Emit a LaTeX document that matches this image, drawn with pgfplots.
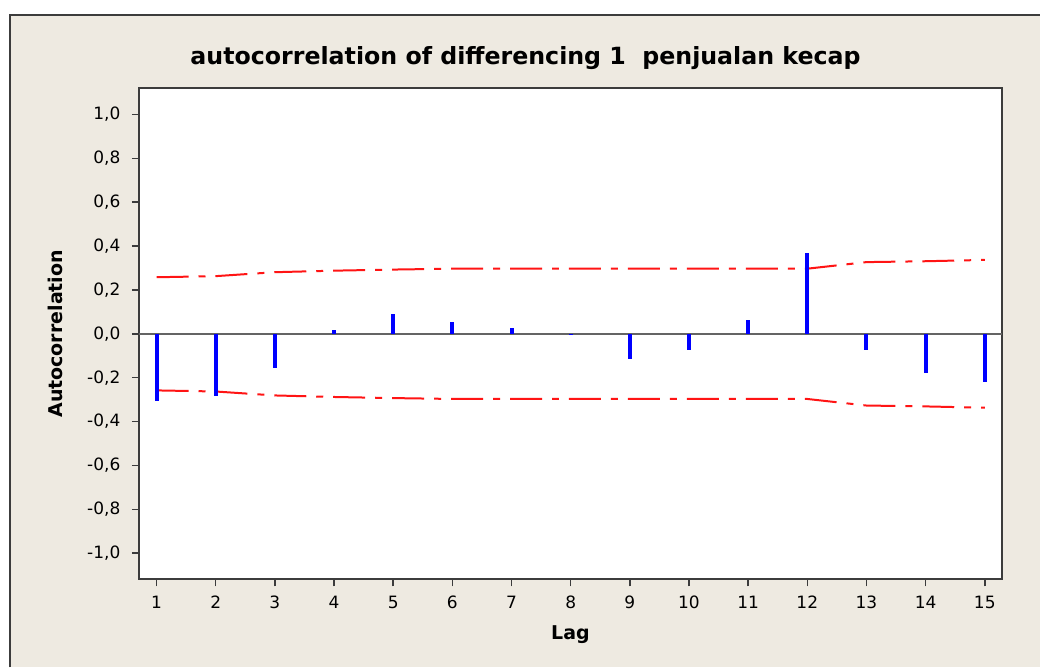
\documentclass[border=0pt]{standalone}
\usepackage{fontspec}
\setmainfont{DejaVu Sans}
\usepackage{pgfplots}
\usepackage{pgfplotstable}
\pgfplotsset{compat=1.18}

\definecolor{panel}{RGB}{238,234,225}
\definecolor{framegray}{RGB}{60,60,60}
\definecolor{zerogray}{RGB}{100,100,100}
\definecolor{acfblue}{RGB}{0,0,255}
\definecolor{limred}{RGB}{255,20,20}

% autocorrelation by lag
\pgfplotstableread{
lag acf
1  -0.305
2  -0.282
3  -0.155
4   0.018
5   0.090
6   0.053
7   0.027
8  -0.005
9  -0.114
10 -0.076
11  0.061
12  0.368
13 -0.076
14 -0.179
15 -0.218
}\acfdata

% 5% significance limits by lag (upper and lower)
\pgfplotstableread{
lag up lo
1  0.258 -0.258
2  0.263 -0.263
3  0.281 -0.281
4  0.288 -0.288
5  0.293 -0.293
6  0.297 -0.297
7  0.297 -0.297
8  0.297 -0.297
9  0.297 -0.297
10 0.297 -0.297
11 0.297 -0.297
12 0.297 -0.297
13 0.327 -0.327
14 0.331 -0.331
15 0.337 -0.337
}\limdata

\begin{document}
\begin{tikzpicture}[x=1pt,y=1pt]
  \fill[white] (0,0) rectangle (1041,668);
  \fill[panel] (10,0) rectangle (1041,653);
  \draw[line width=2pt, framegray] (10,0) -- (10,653) -- (1041,653);
  \node[font=\fontsize{23.7}{28}\selectfont\bfseries] at (526,610)
    {autocorrelation of differencing 1\ \ penjualan kecap};
  \begin{axis}[
    at={(139pt,88pt)}, anchor=south west,
    scale only axis, width=864pt, height=491.7pt,
    xmin=0.701, xmax=15.292, ymin=-1.12, ymax=1.12,
    axis background/.style={fill=white},
    axis line style={framegray, line width=2pt},
    xtick={1,2,3,4,5,6,7,8,9,10,11,12,13,14,15},
    ytick={-1,-0.8,-0.6,-0.4,-0.2,0,0.2,0.4,0.6,0.8,1},
    tick align=outside, major tick length=7pt,
    tick style={framegray, line width=1.5pt},
    xtick pos=bottom, ytick pos=left,
    /pgf/number format/assume math mode=true,
    ticklabel style={font=\fontsize{17}{20}\selectfont},
    xticklabel style={yshift=-6pt},
    yticklabel style={xshift=-8pt, /pgf/number format/.cd, use comma, fixed, fixed zerofill, precision=1},
    xlabel={\bfseries Lag},
    ylabel={\bfseries Autocorrelation},
    label style={font=\fontsize{19}{22}\selectfont},
    xlabel style={at={(axis description cs:0.5,-0.1119)}, anchor=center},
    ylabel style={at={(axis description cs:-0.0972,0.5)}, anchor=center},
    clip=true,
  ]
    \addplot[limred, line width=2pt, dash pattern=on 32pt off 10pt on 7pt off 10pt]
      table[x=lag, y=up] {\limdata};
    \addplot[limred, line width=2pt, dash pattern=on 32pt off 10pt on 7pt off 10pt]
      table[x=lag, y=lo] {\limdata};
    \addplot[zerogray, line width=2pt] coordinates {(0.701,0) (15.292,0)};
    \addplot[ycomb, acfblue, line width=4pt, mark=none]
      table[x=lag, y=acf] {\acfdata};
  \end{axis}
\end{tikzpicture}
\end{document}
